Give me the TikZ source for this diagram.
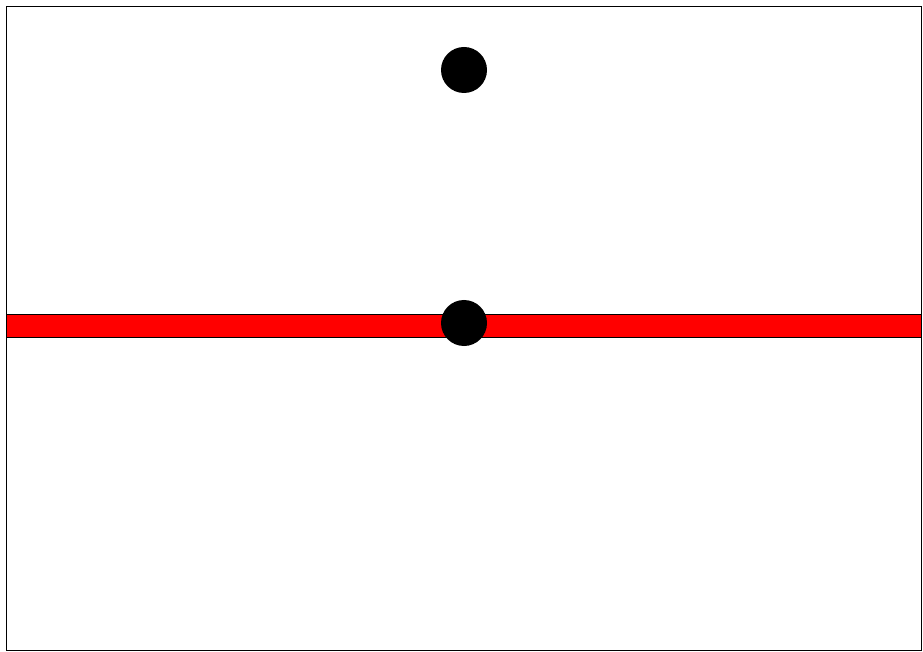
\documentclass[tikz,border=0pt]{standalone}
\usepackage{tikz}
\usepackage{xcolor}

\begin{document}
\begin{tikzpicture}[
    x=0.03cm, y=-0.03cm,
    frame/.style={draw=black, line width=0.85pt},
    bar/.style={draw=black, fill=red, line width=0.85pt},
    ball/.style={circle, fill=black, inner sep=0pt, minimum size=1.38cm}
]
\useasboundingbox (0,0) rectangle (923,652);
\draw[frame] (6.5,6.5) rectangle (921,650);
\draw[bar] (6.5,314.5) rectangle (921,337.5);

\node[ball] (top) at (464,70) {};
\node[ball] (mid) at (464,323) {};
\end{tikzpicture}
\end{document}
